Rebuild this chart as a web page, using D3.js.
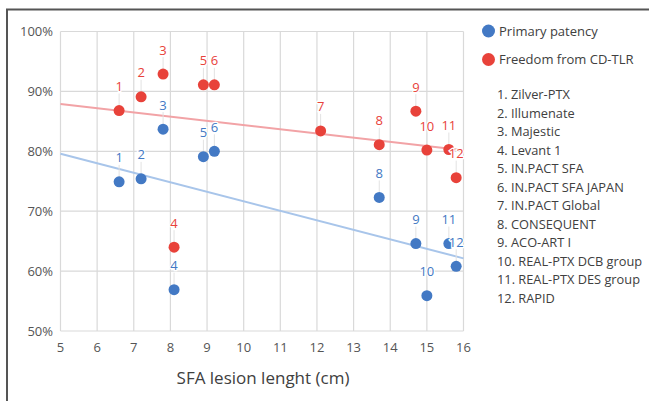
<!DOCTYPE html>
<html>
<head>
<meta charset="utf-8">
<script src="https://cdn.jsdelivr.net/npm/d3@7"></script>
<style>
  body { margin: 0; background: #fff; }
  svg { font-family: "Open Sans", sans-serif; display: block; }
</style>
</head>
<body>
<svg id="chart" width="649" height="401"></svg>
<script>
'use strict';

// lesion length (cm) and outcome (%) per study, numbered as in the legend
var patencyIds = [1, 2, 3, 4, 5, 6, 8, 9, 10, 11, 12];
var patencyLen = [6.6, 7.2, 7.8, 8.1, 8.9, 9.2, 13.7, 14.7, 15.0, 15.6, 15.8];
var patencyVal = [74.9, 75.4, 83.7, 56.9, 79.1, 80.0, 72.3, 64.6, 55.9, 64.6, 60.8];

var tlrIds = [1, 2, 3, 4, 5, 6, 7, 8, 9, 10, 11, 12];
var tlrLen = [6.6, 7.2, 7.8, 8.1, 8.9, 9.2, 12.1, 13.7, 14.7, 15.0, 15.6, 15.8];
var tlrVal = [86.8, 89.1, 92.9, 64.0, 91.1, 91.1, 83.4, 81.1, 86.7, 80.2, 80.3, 75.6];

var seriesNames = ['Primary patency', 'Freedom from CD-TLR'];
var studies = ['Zilver-PTX', 'Illumenate', 'Majestic', 'Levant 1', 'IN.PACT SFA',
  'IN.PACT SFA JAPAN', 'IN.PACT Global', 'CONSEQUENT', 'ACO-ART I',
  'REAL-PTX DCB group', 'REAL-PTX DES group', 'RAPID'];

var xTicks = [5, 6, 7, 8, 9, 10, 11, 12, 13, 14, 15, 16];
var yTicks = [50, 60, 70, 80, 90, 100];

var BLUE = '#4379c4', RED = '#e8423a';
var BLUE_LIGHT = '#a8c5ea', RED_LIGHT = '#f2a3a6';

var svg = d3.select('#chart');

var x = d3.scaleLinear().domain([5, 16]).range([60.5, 463.5]);
var y = d3.scaleLinear().domain([50, 100]).range([331, 31.5]);

// frame (left + top edges)
svg.append('path')
  .attr('d', 'M7,401V9.5H649')
  .attr('fill', 'none')
  .attr('stroke', '#555')
  .attr('stroke-width', 2);

// grid
svg.append('g').selectAll('line').data(xTicks).join('line')
  .attr('x1', d => x(d)).attr('x2', d => x(d))
  .attr('y1', y(50)).attr('y2', y(100))
  .attr('stroke', '#d9d9d9').attr('stroke-width', 1.2);
svg.append('g').selectAll('line').data(yTicks).join('line')
  .attr('x1', x(5)).attr('x2', x(16))
  .attr('y1', d => y(d)).attr('y2', d => y(d))
  .attr('stroke', '#d9d9d9').attr('stroke-width', 1.2);

// tick labels
svg.append('g').selectAll('text').data(yTicks).join('text')
  .attr('x', 53).attr('y', d => y(d)).attr('dy', '0.35em')
  .attr('text-anchor', 'end')
  .attr('font-size', 13).attr('fill', '#555')
  .text(d => d + '%');
svg.append('g').selectAll('text').data(xTicks).join('text')
  .attr('x', d => x(d)).attr('y', 347).attr('dy', '0.35em')
  .attr('text-anchor', 'middle')
  .attr('font-size', 13).attr('fill', '#555')
  .text(d => d);

svg.append('text')
  .attr('x', 263).attr('y', 384)
  .attr('text-anchor', 'middle')
  .attr('font-size', 17).attr('fill', '#404040')
  .text('SFA lesion lenght (cm)');

// least squares trend line over the full x domain
function trend(xs, ys) {
  var mx = d3.mean(xs), my = d3.mean(ys);
  var sxy = d3.sum(xs, (v, i) => (v - mx) * (ys[i] - my));
  var sxx = d3.sum(xs, v => (v - mx) * (v - mx));
  var b = sxy / sxx, a = my - b * mx;
  return [[5, a + b * 5], [16, a + b * 16]];
}

var line = d3.line().x(d => x(d[0])).y(d => y(d[1]));

svg.append('path').datum(trend(patencyLen, patencyVal))
  .attr('d', line).attr('fill', 'none')
  .attr('stroke', BLUE_LIGHT).attr('stroke-width', 2);
svg.append('path').datum(trend(tlrLen, tlrVal))
  .attr('d', line).attr('fill', 'none')
  .attr('stroke', RED_LIGHT).attr('stroke-width', 2);

function drawSeries(ids, xs, ys, color) {
  var pts = ids.map((id, i) => ({ id: id, x: xs[i], y: ys[i] }));
  var g = svg.append('g');
  // leader lines
  g.selectAll('line').data(pts).join('line')
    .attr('x1', d => x(d.x)).attr('x2', d => x(d.x))
    .attr('y1', d => y(d.y) - 17).attr('y2', d => y(d.y) - 5)
    .attr('stroke', '#e2e2e2').attr('stroke-width', 1);
  g.selectAll('circle').data(pts).join('circle')
    .attr('cx', d => x(d.x)).attr('cy', d => y(d.y))
    .attr('r', 5.5).attr('fill', color);
  g.selectAll('text').data(pts).join('text')
    .attr('x', d => x(d.x)).attr('y', d => y(d.y) - 24).attr('dy', '0.35em')
    .attr('text-anchor', 'middle')
    .attr('font-size', 13).attr('fill', color)
    .attr('stroke', '#fff').attr('stroke-width', 2.5)
    .attr('paint-order', 'stroke')
    .text(d => d.id);
}

drawSeries(patencyIds, patencyLen, patencyVal, BLUE);
drawSeries(tlrIds, tlrLen, tlrVal, RED);

// legend
var leg = svg.append('g');
leg.selectAll('circle').data(seriesNames).join('circle')
  .attr('cx', 488.5).attr('cy', (d, i) => 31 + i * 28.5)
  .attr('r', 6.5)
  .attr('fill', (d, i) => i === 0 ? BLUE : RED);
leg.selectAll('text.s').data(seriesNames).join('text')
  .attr('class', 's')
  .attr('x', 499).attr('y', (d, i) => 31 + i * 28.5).attr('dy', '0.35em')
  .attr('font-size', 13).attr('fill', '#404040')
  .text(d => d);
leg.selectAll('text.n').data(studies).join('text')
  .attr('class', 'n')
  .attr('x', 497).attr('y', (d, i) => 95 + i * 18.5).attr('dy', '0.35em')
  .attr('font-size', 12.8).attr('fill', '#404040')
  .text((d, i) => (i + 1) + '. ' + d);
</script>
</body>
</html>
